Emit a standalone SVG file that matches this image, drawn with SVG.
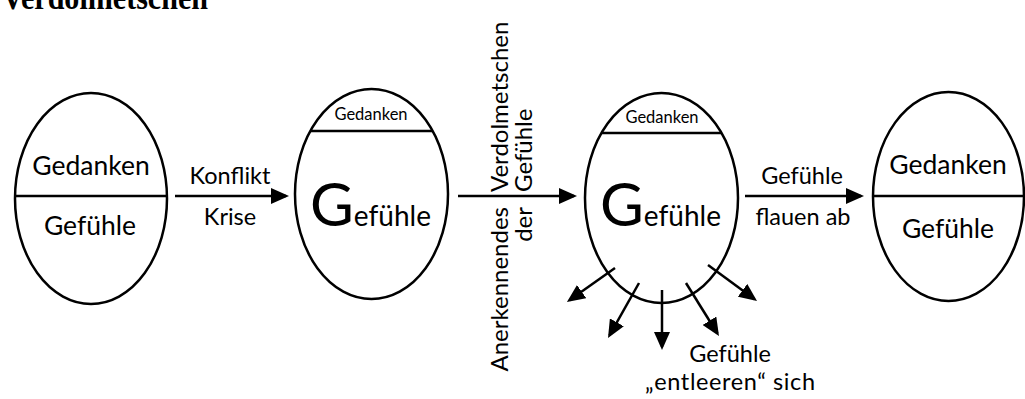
<svg xmlns="http://www.w3.org/2000/svg" width="1025" height="399" viewBox="0 0 1025 399">
  <style>
    .shape { fill: #fff; stroke: #000; stroke-width: 2.5; }
    .rule { stroke: #000; stroke-width: 2.5; fill: none; }
    .edge { stroke: #000; stroke-width: 2.5; fill: none; marker-end: url(#head); }
    text { font-family: Lato, "Open Sans", sans-serif; fill: #000; }
    .big { font-size: 26.5px; text-anchor: middle; }
    .lbl { font-size: 23.5px; text-anchor: middle; }
    .small { font-size: 16.5px; text-anchor: middle; }
    .vert { font-size: 24px; }
    .title { font-family: "Liberation Serif", serif; font-weight: bold; font-size: 34px; }
  </style>
  <defs>
    <marker id="head" markerUnits="userSpaceOnUse" markerWidth="18" markerHeight="16" refX="15" refY="8" orient="auto">
      <path d="M0,0 L18,8 L0,16 Z" fill="#000"/>
    </marker>
  </defs>

  <rect width="1025" height="399" fill="#fff"/>

  <!-- heading, mostly above the top edge -->
  <text class="title" x="2" y="9" textLength="206" lengthAdjust="spacingAndGlyphs">Verdolmetschen</text>

  <!-- state 1: balanced -->
  <g id="state-balanced">
    <ellipse class="shape" cx="91" cy="198.5" rx="76" ry="105.5"/>
    <line class="rule" x1="15" y1="196" x2="167" y2="196"/>
    <text class="big" x="91" y="175">Gedanken</text>
    <text class="big" x="90" y="235">Gefühle</text>
  </g>

  <!-- state 2: feelings dominate -->
  <g id="state-flooded">
    <ellipse class="shape" cx="371.5" cy="194" rx="76.5" ry="105"/>
    <line class="rule" x1="310.3" y1="131" x2="432.7" y2="131"/>
    <text class="small" x="371" y="120">Gedanken</text>
    <text x="310" y="226"><tspan font-size="60">G</tspan><tspan font-size="28">efühle</tspan></text>
  </g>

  <!-- state 3: feelings drain out -->
  <g id="state-draining">
    <ellipse class="shape" cx="661.5" cy="198" rx="76.5" ry="105"/>
    <line class="rule" x1="601.4" y1="133" x2="721.6" y2="133"/>
    <text class="small" x="662" y="123">Gedanken</text>
    <text x="600" y="226"><tspan font-size="60">G</tspan><tspan font-size="28">efühle</tspan></text>
  </g>

  <!-- state 4: balanced again -->
  <g id="state-restored">
    <ellipse class="shape" cx="948.5" cy="196.5" rx="75.5" ry="104.5"/>
    <line class="rule" x1="873" y1="196" x2="1024" y2="196"/>
    <text class="big" x="948" y="174">Gedanken</text>
    <text class="big" x="948" y="238">Gefühle</text>
  </g>

  <!-- connectors -->
  <g id="connectors">
    <line class="edge" x1="175" y1="196" x2="286" y2="196"/>
    <line class="edge" x1="458" y1="196" x2="574" y2="196"/>
    <line class="edge" x1="745" y1="196" x2="861" y2="196"/>

    <line class="edge" x1="615" y1="268" x2="569.4" y2="300.3"/>
    <line class="edge" x1="639" y1="283" x2="609.5" y2="335.4"/>
    <line class="edge" x1="662" y1="290" x2="662" y2="347"/>
    <line class="edge" x1="686" y1="283" x2="717.4" y2="333.5"/>
    <line class="edge" x1="708" y1="265" x2="754.6" y2="299.2"/>
  </g>

  <!-- connector labels -->
  <g id="labels">
    <text class="lbl" x="230" y="184">Konflikt</text>
    <text class="lbl" x="230" y="225">Krise</text>

    <text class="vert" transform="translate(508,192) rotate(-90)">Verdolmetschen</text>
    <text class="vert" transform="translate(532,192) rotate(-90)">Gefühle</text>
    <text class="vert" text-anchor="end" transform="translate(508,207) rotate(-90)">Anerkennendes</text>
    <text class="vert" text-anchor="end" transform="translate(532,207) rotate(-90)">der</text>

    <text class="lbl" x="802" y="184">Gefühle</text>
    <text class="lbl" x="803" y="225">flauen ab</text>

    <text class="lbl" x="730" y="362">Gefühle</text>
    <text class="lbl" x="730" y="390" textLength="170">„entleeren“ sich</text>
  </g>
</svg>
